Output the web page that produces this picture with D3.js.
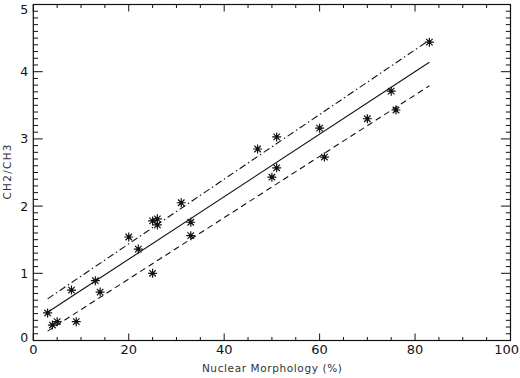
<!DOCTYPE html>
<html>
<head>
<meta charset="utf-8">
<script src="https://cdn.jsdelivr.net/npm/d3@7"></script>
<style>
body{margin:0;background:#fff;}
svg{display:block;}
</style>
</head>
<body>
<div id="chart"></div>
<script>

// data
var morphology = [3, 4, 5, 8, 9, 13, 14, 20, 22, 25, 26, 26, 25, 31, 33, 33, 47, 51, 51, 50, 60, 61, 70, 75, 76, 83];
var ratio = [0.41, 0.23, 0.28, 0.75, 0.28, 0.89, 0.72, 1.54, 1.36, 1.78, 1.81, 1.72, 1.00, 2.05, 1.76, 1.56, 2.85, 3.03, 2.57, 2.43, 3.16, 2.73, 3.30, 3.71, 3.43, 4.44];

// fit line and bounds (x start/end, y start/end)
var lineX = [3, 83];
var fitY = [0.42, 4.14];
var upperY = [0.62, 4.47];
var lowerY = [0.14, 3.79];

var xTicks = [0, 20, 40, 60, 80, 100];
var yTicks = [0, 1, 2, 3, 4, 5];

var width = 520, height = 378;
var margin = {top:4.5, right:9.5, bottom:37.5, left:33.3};

var svg = d3.select("#chart").append("svg")
    .attr("width", width)
    .attr("height", height);

var x = d3.scaleLinear().domain([0, 100]).range([margin.left, width - margin.right]);
var y = d3.scaleLinear().domain([0, 5]).range([height - margin.bottom, margin.top]);

var ink = "#111";

/** frame **/
svg.append("rect")
    .attr("x", x(0))
    .attr("y", y(5))
    .attr("width", x(100) - x(0))
    .attr("height", y(0) - y(5))
    .attr("fill", "none")
    .attr("stroke", ink)
    .attr("stroke-width", 1.2);

// ticks go inward on every side
var xMinor = d3.range(0, 101, 5);
var yMinor = d3.range(0, 50.1, 1).map(function(d){ return d/10; });

var tickG = svg.append("g").attr("stroke", ink).attr("stroke-width", 1);

tickG.selectAll(".xt").data(xMinor).enter().append("line")
    .attr("x1", function(d){ return x(d); })
    .attr("x2", function(d){ return x(d); })
    .attr("y1", y(0))
    .attr("y2", function(d){ return y(0) - (d % 20 == 0 ? 7 : 3.5); });
tickG.selectAll(".xtt").data(xMinor).enter().append("line")
    .attr("x1", function(d){ return x(d); })
    .attr("x2", function(d){ return x(d); })
    .attr("y1", y(5))
    .attr("y2", function(d){ return y(5) + (d % 20 == 0 ? 7 : 3.5); });

tickG.selectAll(".yt").data(yMinor).enter().append("line")
    .attr("y1", function(d){ return y(d); })
    .attr("y2", function(d){ return y(d); })
    .attr("x1", x(0))
    .attr("x2", function(d){ return x(0) + (Math.abs(d - Math.round(d)) < 1e-6 ? 9.5 : 4.7); });
tickG.selectAll(".ytr").data(yMinor).enter().append("line")
    .attr("y1", function(d){ return y(d); })
    .attr("y2", function(d){ return y(d); })
    .attr("x1", x(100))
    .attr("x2", function(d){ return x(100) - (Math.abs(d - Math.round(d)) < 1e-6 ? 9.5 : 4.7); });

/** tick labels **/
svg.selectAll(".xLabel").data(xTicks).enter().append("text")
    .attr("class", "xLabel")
    .attr("x", function(d){ return d == 100 ? width - 1 : x(d); })
    .attr("y", y(0) + 13.5)
    .attr("text-anchor", function(d){ return d == 100 ? "end" : "middle"; })
    .style("font-family", "DejaVu Sans")
    .style("font-size", "13px")
    .style("fill", ink)
    .text(function(d){ return d; });

svg.selectAll(".yLabel").data(yTicks).enter().append("text")
    .attr("class", "yLabel")
    .attr("x", x(0) - 5)
    .attr("y", function(d){ return y(d) + (d == 5 ? 9 : d == 0 ? 1 : 4.5); })
    .attr("text-anchor", "end")
    .style("font-family", "DejaVu Sans")
    .style("font-size", "12.5px")
    .style("fill", ink)
    .text(function(d){ return d; });

/** axis titles **/
svg.append("text")
    .attr("x", (x(0) + x(100)) / 2)
    .attr("y", 372)
    .attr("text-anchor", "middle")
    .attr("textLength", 140)
    .attr("lengthAdjust", "spacing")
    .style("font-family", "DejaVu Sans")
    .style("font-size", "10.5px")
    .style("fill", "#333")
    .text("Nuclear Morphology (%)");

svg.append("text")
    .attr("transform", "translate(11," + 172 + ") rotate(-90)")
    .attr("text-anchor", "middle")
    .attr("textLength", 55)
    .attr("lengthAdjust", "spacing")
    .style("font-family", "DejaVu Sans")
    .style("font-size", "10.5px")
    .style("fill", "#333")
    .text("CH2/CH3");

/** lines **/
var lineGenerator = d3.line()
    .x(function(d){ return x(d[0]); })
    .y(function(d){ return y(d[1]); });

var lines = [
    {ys: fitY, dash: null},
    {ys: upperY, dash: "7,3,1.5,3"},
    {ys: lowerY, dash: "6,4"}
];

svg.selectAll(".fitLine").data(lines).enter().append("path")
    .attr("class", "fitLine")
    .attr("fill", "none")
    .attr("stroke", ink)
    .attr("stroke-width", 1.1)
    .attr("stroke-dasharray", function(d){ return d.dash; })
    .attr("d", function(d){ return lineGenerator([[lineX[0], d.ys[0]], [lineX[1], d.ys[1]]]); });

/** asterisk markers **/
var points = morphology.map(function(d, i){ return {x: d, y: ratio[i]}; });
var r = 4.5;
var star = "M" + (-r) + ",0L" + r + ",0" +
    "M0," + (-r) + "L0," + r +
    "M" + (-r*0.72) + "," + (-r*0.72) + "L" + (r*0.72) + "," + (r*0.72) +
    "M" + (-r*0.72) + "," + (r*0.72) + "L" + (r*0.72) + "," + (-r*0.72);

var dots = svg.selectAll(".dot").data(points).enter().append("g")
    .attr("class", "dot")
    .attr("transform", function(d){ return "translate(" + x(d.x) + "," + y(d.y) + ")"; });

dots.append("path")
    .attr("d", star)
    .attr("stroke", ink)
    .attr("stroke-width", 1.2)
    .attr("fill", "none");

dots.append("circle")
    .attr("r", 1.8)
    .attr("fill", ink);

</script>
</body>
</html>
